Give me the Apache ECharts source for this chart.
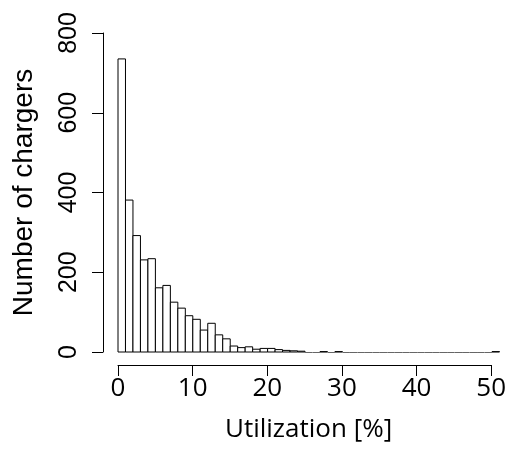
<!DOCTYPE html>
<html>
<head>
<meta charset="utf-8">
<title>Utilization histogram</title>
<script src="https://cdn.jsdelivr.net/npm/echarts@6/dist/echarts.min.js"></script>
<style>
  html, body { margin: 0; padding: 0; background: #fff; }
  #chart { width: 509px; height: 453px; }
</style>
</head>
<body>
<div id="chart"></div>
<script>
// histogram bins (lower edge, width 1 %)
const binStarts = [0, 1, 2, 3, 4, 5, 6, 7, 8, 9, 10, 11, 12, 13, 14, 15, 16, 17, 18, 19,
  20, 21, 22, 23, 24, 25, 26, 27, 28, 29, 30, 31, 32, 33, 34, 35, 36, 37, 38, 39,
  40, 41, 42, 43, 44, 45, 46, 47, 48, 49, 50];
const binWidth = 1;
const counts = [735, 381, 292, 231, 234, 161, 167, 125, 110, 91, 82, 55, 72, 43, 33, 15, 11, 13, 7, 9,
  9, 6, 4, 3, 2, 0, 0, 1, 0, 1, 0, 0, 0, 0, 0, 0, 0, 0, 0, 0,
  0, 0, 0, 0, 0, 0, 0, 0, 0, 0, 1];
const xTicks = [0, 10, 20, 30, 40, 50];
const yTicks = [0, 200, 400, 600, 800];

const chart = echarts.init(document.getElementById('chart'), null, { renderer: 'canvas' });

const option = {
  animation: false,
  backgroundColor: '#fff',
  grid: [
    { left: 118, top: 33, width: 381.5, height: 319 }, // bars 0..51
    { left: 118, top: 33, width: 374, height: 332 }    // labelled x axis 0..50, sits below the bars like R
  ],
  xAxis: [
    { gridIndex: 0, type: 'value', min: 0, max: 51, show: false },
    {
      gridIndex: 1,
      type: 'value',
      min: xTicks[0],
      max: xTicks[xTicks.length - 1],
      interval: 10,
      axisLine: { show: true, onZero: false, lineStyle: { color: '#000', width: 1 } },
      axisTick: { show: true, length: 11, lineStyle: { color: '#000' } },
      axisLabel: { margin: 11, color: '#000', fontSize: 26, fontFamily: 'Open Sans' },
      splitLine: { show: false },
      name: 'Utilization [%]',
      nameLocation: 'middle',
      nameGap: 52,
      nameTextStyle: { color: '#000', fontSize: 26, fontFamily: 'Open Sans', padding: [0, 0, 0, 8] }
    }
  ],
  yAxis: [
    {
      gridIndex: 0,
      type: 'value',
      min: yTicks[0],
      max: yTicks[yTicks.length - 1],
      interval: 200,
      offset: 15,
      axisLine: { show: true, onZero: false, lineStyle: { color: '#000', width: 1 } },
      axisTick: { show: true, length: 11, lineStyle: { color: '#000' } },
      axisLabel: { rotate: 90, margin: 21, color: '#000', fontSize: 25, fontFamily: 'Liberation Sans' },
      splitLine: { show: false },
      name: 'Number of chargers',
      nameLocation: 'middle',
      nameRotate: 90,
      nameGap: 65,
      nameTextStyle: { color: '#000', fontSize: 28, fontFamily: 'Liberation Sans' }
    },
    { gridIndex: 1, type: 'value', min: 0, max: 800, show: false }
  ],
  series: [
    {
      type: 'custom',
      xAxisIndex: 0,
      yAxisIndex: 0,
      clip: false,
      encode: { x: [0, 1], y: 2 },
      data: binStarts.map((s, i) => [s, s + binWidth, counts[i]]),
      renderItem: (params, api) => {
        const p0 = api.coord([api.value(0), 0]);
        const p1 = api.coord([api.value(1), api.value(2)]);
        if (api.value(2) === 0) {
          // empty bin: R draws it as a flat outline on the baseline
          const y = Math.round(p0[1]) + 0.5;
          return {
            type: 'line',
            shape: { x1: p0[0], y1: y, x2: p1[0], y2: y },
            style: { stroke: '#666', lineWidth: 1 }
          };
        }
        return {
          type: 'rect',
          shape: { x: p0[0], y: p1[1], width: p1[0] - p0[0], height: p0[1] - p1[1] },
          style: { fill: '#fff', stroke: '#000', lineWidth: 1 }
        };
      }
    }
  ]
};

chart.setOption(option);
</script>
</body>
</html>
